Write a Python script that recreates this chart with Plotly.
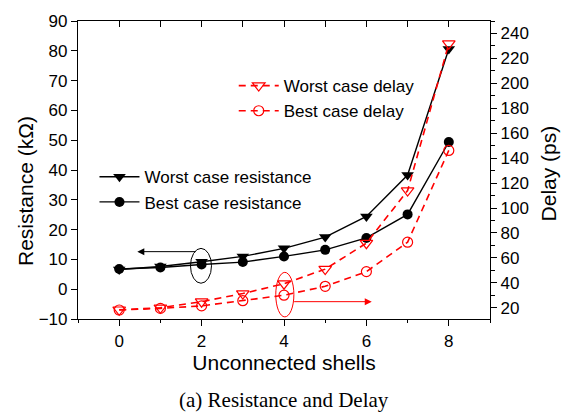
import plotly.graph_objects as go

# Number of unconnected shells (x axis)
shells = [0, 1, 2, 3, 4, 5, 6, 7, 8]

# Resistance in kOhm (left axis)
worst_res = [6.6, 7.6, 9.2, 11.0, 13.7, 17.5, 24.4, 38.3, 80.6]
best_res = [6.8, 7.3, 8.3, 9.1, 11.0, 13.2, 17.2, 25.1, 49.4]

# Delay in ps (right axis)
worst_delay = [18.4, 20.0, 24.9, 31.4, 39.3, 51.0, 71.8, 114.0, 231.8]
best_delay = [18.2, 19.5, 21.5, 25.7, 30.1, 37.2, 49.0, 72.6, 146.2]

x_ticks = [0, 2, 4, 6, 8]
res_ticks = [-10, 0, 10, 20, 30, 40, 50, 60, 70, 80, 90]
delay_ticks = [20, 40, 60, 80, 100, 120, 140, 160, 180, 200, 220, 240]

SANS = "Liberation Sans, Arial, sans-serif"
RED = "#ff0000"

fig = go.Figure()

fig.add_trace(go.Scatter(
    x=shells, y=worst_res, name="Worst case resistance", mode="lines+markers",
    line=dict(color="black", width=1.4),
    marker=dict(symbol="triangle-down", size=11, color="black"),
    legend="legend2", xaxis="x", yaxis="y"))
fig.add_trace(go.Scatter(
    x=shells, y=best_res, name="Best case resistance", mode="lines+markers",
    line=dict(color="black", width=1.4),
    marker=dict(symbol="circle", size=10, color="black"),
    legend="legend2", xaxis="x", yaxis="y"))

fig.add_trace(go.Scatter(
    x=shells, y=worst_delay, name="Worst case delay", mode="lines+markers",
    line=dict(color=RED, width=1.6, dash="7px,5px"),
    marker=dict(symbol="triangle-down-open", size=11, color=RED, line=dict(width=1.2)),
    legend="legend", xaxis="x", yaxis="y2"))
fig.add_trace(go.Scatter(
    x=shells, y=best_delay, name="Best case delay", mode="lines+markers",
    line=dict(color=RED, width=1.6, dash="7px,5px"),
    marker=dict(symbol="circle-open", size=10, color=RED, line=dict(width=1.2)),
    legend="legend", xaxis="x", yaxis="y2"))

# Ellipses grouping the marked points, with arrows pointing to their axis
fig.add_shape(type="circle", xref="x", yref="y", x0=1.73, x1=2.24, y0=2.0, y1=13.7,
              line=dict(color="black", width=1))
fig.add_shape(type="circle", xref="x", yref="y2", x0=3.80, x1=4.24, y0=12.7, y1=48.4,
              line=dict(color=RED, width=1))
fig.add_annotation(x=0.44, y=12.6, xref="x", yref="y", ax=1.89, ay=12.6,
                   axref="x", ayref="y", text="", showarrow=True,
                   arrowhead=2, arrowsize=1.4, arrowwidth=1, arrowcolor="black")
fig.add_annotation(x=6.13, y=24.9, xref="x", yref="y2", ax=4.21, ay=24.9,
                   axref="x", ayref="y2", text="", showarrow=True,
                   arrowhead=2, arrowsize=1.4, arrowwidth=1, arrowcolor=RED)

# Vertical axis titles
fig.add_annotation(text="Resistance (kΩ)", xref="paper", yref="paper", x=-0.1286, y=0.4295,
                   textangle=-90, showarrow=False, xanchor="center", yanchor="middle",
                   font=dict(family=SANS, size=21, color="black"))
fig.add_annotation(text="Delay (ps)", xref="paper", yref="paper", x=1.1408, y=0.4885,
                   textangle=-90, showarrow=False, xanchor="center", yanchor="middle",
                   font=dict(family=SANS, size=21, color="black"))

# Caption below the chart
fig.add_annotation(text="(a) Resistance and Delay", xref="paper", yref="paper",
                   x=0.5, y=-0.272, xanchor="center", yanchor="middle", showarrow=False,
                   font=dict(family="Liberation Serif, Times New Roman, serif", size=21, color="black"))

axis_common = dict(showline=True, linecolor="black", linewidth=1.2, showgrid=False,
                   zeroline=False, tickcolor="black", ticklen=6, tickwidth=1.2,
                   tickfont=dict(family=SANS, size=17, color="black"))

fig.update_layout(
    width=569, height=415,
    margin=dict(l=78, r=79, t=14, b=96),
    paper_bgcolor="white", plot_bgcolor="white",
    font=dict(family=SANS, color="black"),
    xaxis=dict(range=[-1, 9], tickvals=x_ticks, ticks="outside",
               minor=dict(dtick=1, ticks="outside", ticklen=3, tickcolor="black"),
               title=dict(text="Unconnected shells", font=dict(family=SANS, size=21), standoff=5),
               **axis_common),
    xaxis2=dict(range=[-1, 9], overlaying="x", side="top", dtick=1, ticks="inside",
                showticklabels=False, showline=True, linecolor="black", linewidth=1.2,
                showgrid=False, zeroline=False, tickcolor="black", ticklen=6, tickwidth=1.2),
    yaxis=dict(range=[-10, 90], tickvals=res_ticks, ticks="outside", **axis_common),
    yaxis2=dict(range=[11, 250], tickvals=delay_ticks, ticks="outside", overlaying="y", side="right",
                minor=dict(dtick=10, ticks="outside", ticklen=3.5, tickcolor="black"),
                **axis_common),
    legend=dict(x=0.378, y=0.842, xanchor="left", yanchor="top", bgcolor="rgba(0,0,0,0)",
                font=dict(family=SANS, size=17, color="black"), tracegroupgap=0, itemwidth=40),
    legend2=dict(x=0.040, y=0.536, xanchor="left", yanchor="top", bgcolor="rgba(0,0,0,0)",
                 font=dict(family=SANS, size=17, color="black"), tracegroupgap=0, itemwidth=40),
)

# Invisible trace to activate the top axis
fig.add_trace(go.Scatter(x=[0], y=[None], xaxis="x2", yaxis="y", showlegend=False,
                         hoverinfo="skip"))

fig.write_html("out.html")
